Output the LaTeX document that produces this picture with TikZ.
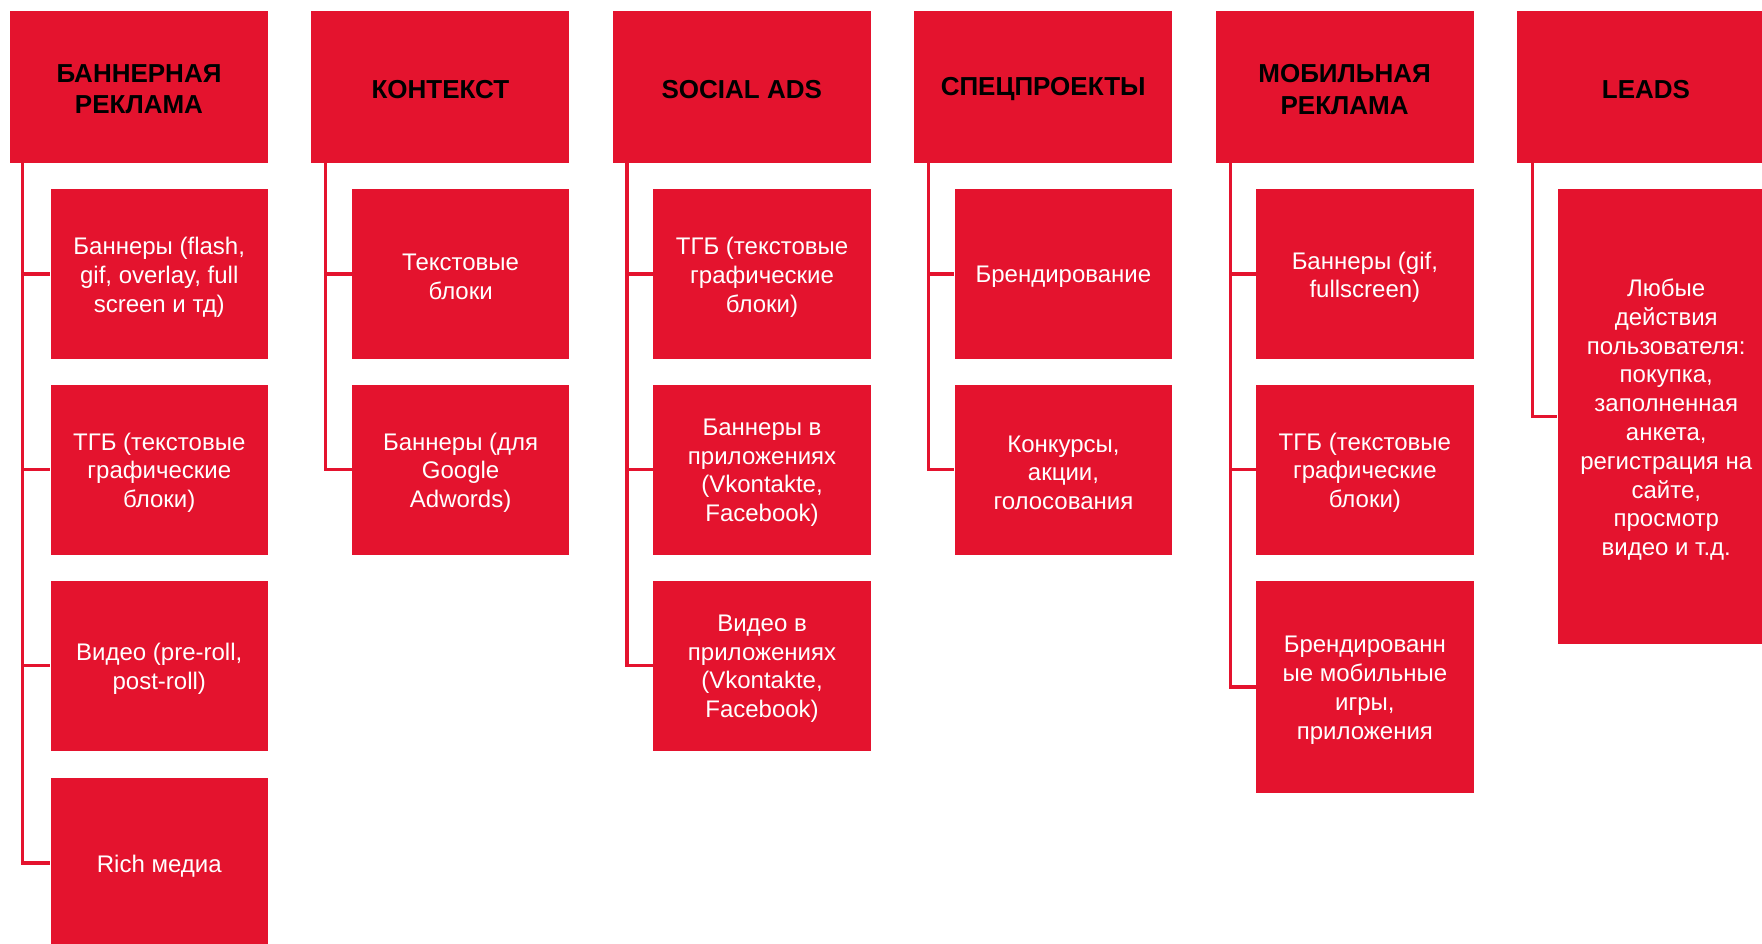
\documentclass[tikz,border=0pt]{standalone}
\usepackage{fontspec}
\setmainfont{Liberation Sans}
\definecolor{adred}{RGB}{228,19,46}
\newcommand\boxitem[4]{%
  \node[item,#1] (#2) at (#3) {};
  \node[itemtext] (#2t) at ([yshift=-1.6pt]#2.center) {#4};}
\begin{document}
\begin{tikzpicture}[x=0.5pt,y=-0.5pt,
  hdr/.style={fill=adred, inner sep=0pt, minimum width=129pt, minimum height=76pt},
  hdrtext/.style={inner sep=0pt, align=center, font=\bfseries\fontsize{13}{15.7}\selectfont, text=black},
  item/.style={fill=adred, inner sep=0pt, minimum width=108.75pt, minimum height=85pt},
  itemtext/.style={inner sep=0pt, align=center, font=\fontsize{12}{14.4}\selectfont, text=white},
  conn/.style={draw=adred, line width=1.6pt}]
\useasboundingbox (0,0) rectangle (1762,943);
\clip (0,0) rectangle (1762,943);
% headers
\node[hdr] (h1) at (139,87) {};
\node[hdr] (h2) at (440.4,87) {};
\node[hdr] (h3) at (741.8,87) {};
\node[hdr] (h4) at (1043.2,87) {};
\node[hdr] (h5) at (1344.6,87) {};
\node[hdr] (h6) at (1646,87) {};
\node[hdrtext] (h1t) at ([yshift=-1.2pt]h1.center) {БАННЕРНАЯ\\РЕКЛАМА};
\node[hdrtext] (h2t) at ([yshift=-1.2pt]h2.center) {КОНТЕКСТ};
\node[hdrtext] (h3t) at ([yshift=-1.2pt]h3.center) {SOCIAL ADS};
\node[hdrtext] (h4t) at ([yshift=-1.2pt]h4.center) {СПЕЦПРОЕКТЫ};
\node[hdrtext] (h5t) at ([yshift=-1.2pt]h5.center) {МОБИЛЬНАЯ\\РЕКЛАМА};
\node[hdrtext] (h6t) at ([yshift=-1.2pt]h6.center) {LEADS};
% column 1
\boxitem{}{c11}{159.25,274}{Баннеры (flash,\\gif, overlay, full\\screen и тд)}
\boxitem{}{c12}{159.25,469.5}{ТГБ (текстовые\\графические\\блоки)}
\boxitem{}{c13}{159.25,665.5}{Видео (pre-roll,\\post-roll)}
\boxitem{}{c14}{159.25,863}{Rich медиа}
% column 2
\boxitem{}{c21}{460.65,274}{Текстовые\\блоки}
\boxitem{}{c22}{460.65,469.5}{Баннеры (для\\Google\\Adwords)}
% column 3
\boxitem{}{c31}{762.05,274}{ТГБ (текстовые\\графические\\блоки)}
\boxitem{}{c32}{762.05,469.5}{Баннеры в\\приложениях\\(Vkontakte,\\Facebook)}
\boxitem{}{c33}{762.05,665.5}{Видео в\\приложениях\\(Vkontakte,\\Facebook)}
% column 4
\boxitem{}{c41}{1063.45,274}{Брендирование}
\boxitem{}{c42}{1063.45,469.5}{Конкурсы,\\акции,\\голосования}
% column 5
\boxitem{}{c51}{1364.85,274}{Баннеры (gif,\\fullscreen)}
\boxitem{}{c52}{1364.85,469.5}{ТГБ (текстовые\\графические\\блоки)}
\boxitem{minimum height=106pt}{c53}{1364.85,687}{Брендированн\\ые мобильные\\игры,\\приложения}
% column 6
\boxitem{minimum height=227.5pt}{c61}{1666.25,416.5}{Любые\\действия\\пользователя:\\покупка,\\заполненная\\анкета,\\регистрация на\\сайте,\\просмотр\\видео и т.д.}
% connectors
\foreach \h/\c/\o in {h1/c11/6.6,h1/c12/6.6,h1/c13/6.6,h1/c14/6.6,h2/c21/7.3,h2/c22/7.3,h3/c31/7.3,h3/c32/7.3,h3/c33/7.3,h4/c41/7.5,h4/c42/7.5,h5/c51/7.8,h5/c52/7.8,h5/c53/7.8,h6/c61/8}
  \draw[conn] ([xshift=\o pt]\h.south west) |- (\c.west);
\end{tikzpicture}
\end{document}
